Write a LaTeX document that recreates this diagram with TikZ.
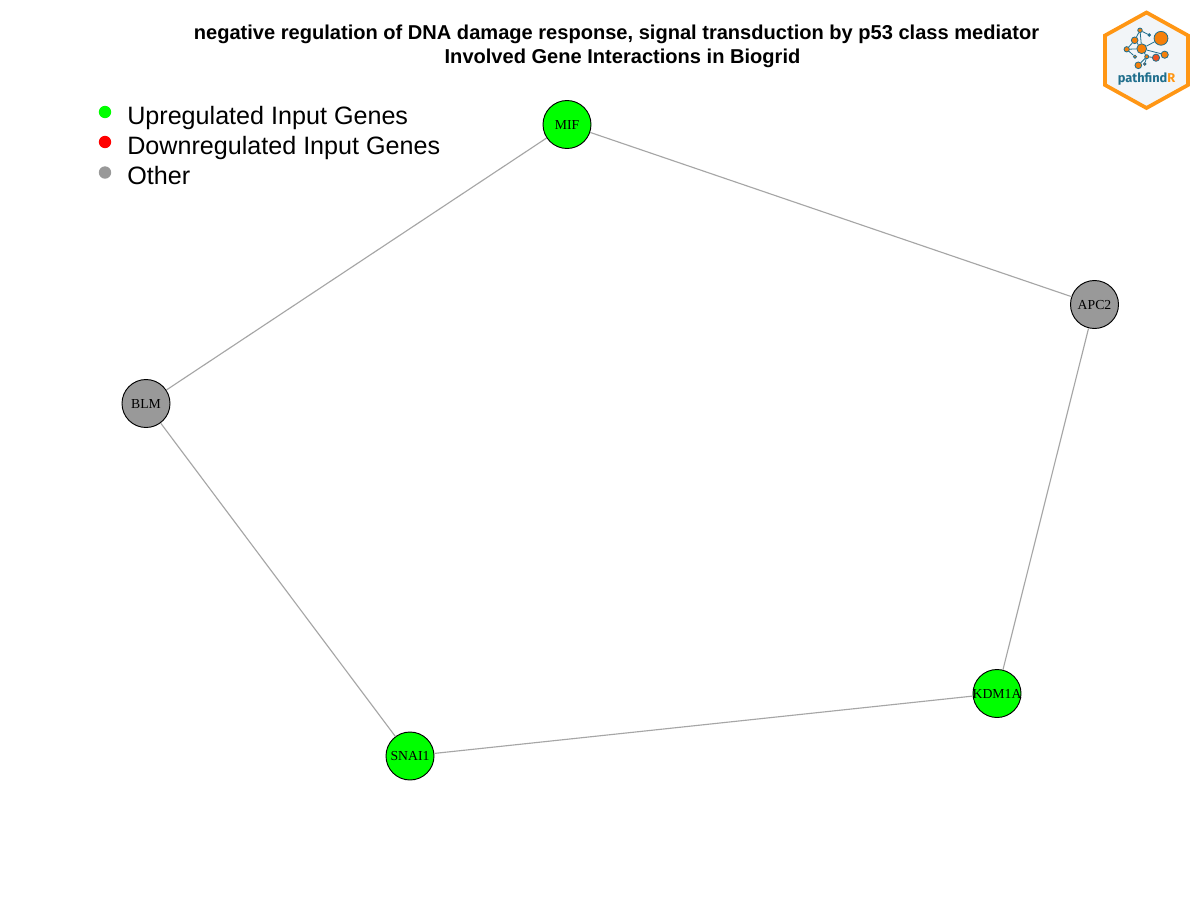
\documentclass[tikz,border=0pt]{standalone}
\usepackage{fontspec}
\setmainfont{Liberation Sans}
\newfontfamily\serifgene{Liberation Serif}
\newfontfamily\logofont{Fira Sans}
\definecolor{grayv}{HTML}{999999}
\definecolor{edgec}{HTML}{A6A6A6}
\definecolor{upg}{HTML}{00FF00}
\definecolor{logoor}{HTML}{FF9614}
\definecolor{logobl}{HTML}{1F6E8C}
\definecolor{logofill}{HTML}{F2F5F8}
\definecolor{logonode}{HTML}{F57F0A}
\definecolor{logored}{HTML}{F0501E}
\tikzset{
  gene/.style={circle,draw=black,line width=0.7pt,minimum size=36pt,inner sep=0pt,inner xsep=-8pt,font=\serifgene\fontsize{10.3}{12}\selectfont,text=black,text height=7pt,text depth=0pt},
  edgeline/.style={draw=edgec,line width=0.85pt},
  titletext/.style={inner sep=0pt,font=\bfseries\fontsize{15.05}{18}\selectfont},
  legtext/.style={anchor=west,inner sep=0pt,font=\fontsize{18.85}{22}\selectfont},
  legdot/.style={circle,minimum size=9.3pt,inner sep=0pt},
  lnode/.style={circle,draw=logobl,line width=0.6pt,fill=logonode,inner sep=0pt},
  ledge/.style={draw=logobl,line width=0.6pt}
}
\begin{document}
\begin{tikzpicture}[x=0.75pt,y=-0.75pt]
\useasboundingbox (0,0) rectangle (1200,900);
\fill[white] (0,0) rectangle (1200,900);
% title
\node[titletext] (title) at (616.5,34) {negative regulation of DNA damage response, signal transduction by p53 class mediator};
\node[titletext] (title2) at (622.5,58) {Involved Gene Interactions in Biogrid};
% genes
\node[gene,fill=upg] (MIF) at (567,124.5) {MIF};
\node[gene,fill=grayv] (APC2) at (1094.5,304.5) {APC2};
\node[gene,fill=grayv] (BLM) at (146,403.5) {BLM};
\node[gene,fill=upg] (KDM1A) at (997,693.5) {KDM1A};
\node[gene,fill=upg] (SNAI1) at (410,756) {SNAI1};
\draw[edgeline] (MIF) -- (APC2);
\draw[edgeline] (MIF) -- (BLM);
\draw[edgeline] (BLM) -- (SNAI1);
\draw[edgeline] (SNAI1) -- (KDM1A);
\draw[edgeline] (KDM1A) -- (APC2);
% legend
\node[legdot,fill=upg] (d1) at (105,112) {};
\node[legdot,fill=red] (d2) at (105,142) {};
\node[legdot,fill=grayv] (d3) at (105,172.5) {};
\node[legtext] (t1) at (127,118) {Upregulated Input Genes};
\node[legtext] (t2) at (127,148) {Downregulated Input Genes};
\node[legtext] (t3) at (127,176) {Other};
% logo
\draw[logoor,fill=logofill,line width=2.8pt,line join=miter] (1146.5,12.5) -- (1188,35.5) -- (1188,85) -- (1146.5,108) -- (1105,85) -- (1105,35.5) -- cycle;
\node[lnode,minimum size=10.4pt] (a) at (1161,38.3) {};
\node[lnode,minimum size=7.4pt] (b) at (1141.7,48.7) {};
\node[lnode,minimum size=5pt] (c) at (1134.7,40.3) {};
\node[lnode,minimum size=3.4pt] (e) at (1140,30.3) {};
\node[lnode,minimum size=2pt,fill=logobl] (f) at (1149.3,35) {};
\node[lnode,minimum size=4pt] (g) at (1126.7,49.3) {};
\node[lnode,minimum size=2.4pt] (h) at (1135,56.7) {};
\node[lnode,minimum size=5.4pt] (i) at (1164.7,54.7) {};
\node[lnode,minimum size=5.4pt,fill=logored] (j) at (1156,57.7) {};
\node[lnode,minimum size=3pt] (k) at (1146.7,56.7) {};
\node[lnode,minimum size=5pt] (l) at (1138.3,65.3) {};
\node[lnode,minimum size=2pt,fill=logored] (m) at (1144.7,64) {};
\draw[ledge] (a)--(b) (b)--(c) (c)--(e) (e)--(f) (e)--(b) (b)--(g) (g)--(c) (g)--(h) (b)--(k) (k)--(j) (b)--(i) (k)--(l) (k)--(m);
\node[inner sep=0pt,font=\logofont\fontsize{9.6}{11}\selectfont\bfseries] (logo) at (1146.5,79.5) {\textcolor{logobl}{pathfind}\textcolor{logoor}{R}};
\end{tikzpicture}
\end{document}
